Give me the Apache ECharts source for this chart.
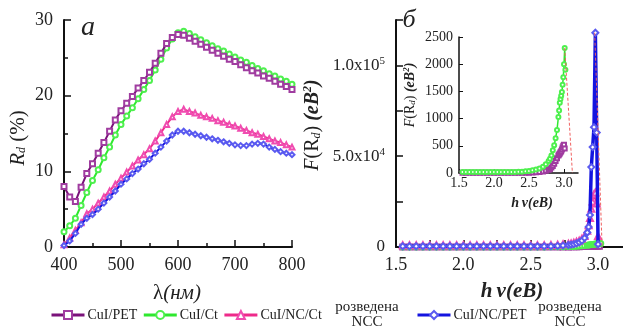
<!DOCTYPE html>
<html><head><meta charset="utf-8">
<script src="https://cdn.jsdelivr.net/npm/echarts/dist/echarts.min.js"></script>
<style>html,body{margin:0;padding:0;background:#fff}#c{width:623px;height:329px}</style>
</head><body><div id="c"></div>
<script>
// ---- panel (a): diffuse reflectance vs wavelength ----
const wavelength = [400,410,420,430,440,450,460,470,480,490,500,510,520,530,540,550,560,570,580,590,600,610,620,630,640,650,660,670,680,690,700,710,720,730,740,750,760,770,780,790,800];
const rdCuIPET   = [8.0,6.6,6.0,7.9,9.7,11.0,12.4,13.8,15.3,16.8,18.0,19.0,19.9,21.0,22.0,23.1,24.3,25.6,26.9,27.7,28.1,28.0,27.6,27.2,26.8,26.4,26.0,25.6,25.2,24.8,24.5,24.1,23.7,23.3,23.0,22.6,22.3,21.9,21.5,21.2,20.8];
const rdCuICt    = [2.0,2.8,3.8,5.5,7.2,8.8,10.2,11.8,13.2,14.8,16.2,17.3,18.4,19.6,20.8,22.0,23.4,24.8,26.3,27.5,28.3,28.5,28.2,27.8,27.4,27.0,26.6,26.2,25.9,25.5,25.1,24.7,24.4,24.0,23.6,23.3,22.9,22.6,22.2,21.9,21.5];
const rdCuINCCt  = [0.3,1.2,2.2,3.2,4.4,5.0,5.8,6.6,7.4,8.3,9.1,9.9,10.7,11.5,12.2,13.0,14.0,15.1,16.2,17.2,17.9,18.2,17.9,17.7,17.4,17.2,17.0,16.7,16.5,16.2,16.0,15.7,15.4,15.1,14.9,14.6,14.3,14.0,13.8,13.5,13.2];
const rdCuINCPET = [0.2,0.8,1.8,3.0,3.8,4.3,5.0,5.8,6.6,7.4,8.3,9.0,9.7,10.3,11.0,11.6,12.4,13.2,14.0,14.8,15.3,15.3,15.1,14.9,14.7,14.5,14.3,14.1,13.9,13.7,13.5,13.4,13.4,13.6,13.7,13.6,13.2,12.9,12.6,12.4,12.2];
// ---- panel (б): Kubelka-Munk function vs photon energy ----
const energy = [1.55,1.6,1.65,1.7,1.75,1.8,1.85,1.9,1.95,2.0,2.05,2.1,2.15,2.2,2.25,2.3,2.35,2.4,2.45,2.5,2.55,2.6,2.65,2.7,2.74,2.78,2.8,2.82,2.84,2.86,2.88,2.9,2.92,2.93,2.94,2.95,2.96,2.97,2.98,2.99,3.0,3.01,3.02];
const fCuIPET   = [5,5,5,5,5,5,5,5,5,5,5,5,5,5,5,5,5,5,5,5,8,12,18,28,40,60,75,100,130,170,220,270,320,340,360,380,400,430,470,500,520,450,null];
const fCuICt    = [20,20,20,20,20,20,20,20,20,20,20,20,20,20,20,20,22,25,30,38,50,65,85,115,160,220,260,320,420,510,640,790,1030,1150,1290,1360,1420,1490,1620,1760,2000,2300,1900];
const fCuINCCt  = [1000,1000,1000,1000,1000,1000,1000,1000,1000,1000,1000,1000,1000,1000,1000,1000,1000,1000,1000,1000,1000,1000,1100,1300,1500,1800,2000,2400,2900,3500,4500,6000,9000,12000,16000,21000,25000,29000,30000,24000,6000,null,null];
const fCuINCPET = [400,400,400,400,400,400,400,400,400,400,400,400,400,400,400,400,400,400,400,400,400,400,450,600,800,1100,1300,1600,2000,2600,3500,5000,8000,11000,17600,44000,55000,66000,118000,63000,1500,null,null];
const fitMain  = [[2.975,118000],[3.03,0]];
const fitInset = [[3.01,2300],[3.12,0]];
const seriesNames = ['CuI/PET','CuI/Ct','CuI/NC/Ct','CuI/NC/PET'];

const FONT = 'Liberation Serif';
const C = {
  pet:  {line:'#7a127a', mark:'#a03ca0', sym:'emptyRect'},
  ct:   {line:'#2ee82e', mark:'#4ef04e', sym:'emptyCircle'},
  ncct: {line:'#ee2a8a', mark:'#f04cb0', sym:'emptyTriangle'},
  ncpet:{line:'#1414e0', mark:'#5a5af0', sym:'emptyDiamond'}
};
function pairs(xs, ys){ return xs.map((x,i)=>[x, ys[i]]); }
function ser(name, st, data, xi, yi, size, lw, z){
  return {type:'line', name, xAxisIndex:xi, yAxisIndex:yi, data, symbol:st.sym, symbolSize:size,
    showSymbol:true, connectNulls:false, z:z||2, animation:false,
    lineStyle:{color:st.line, width:lw}, itemStyle:{color:st.mark, borderWidth:1}};
}
const axisLineBlack = {show:true, lineStyle:{color:'#111', width:2}};
const tickStyle = {show:true, inside:true, length:7, lineStyle:{color:'#111', width:1.5}};
const minorStyle = {show:true, splitNumber:2, length:4, lineStyle:{color:'#111', width:1.5}};
const lab = {color:'#222', fontFamily:FONT, fontSize:18};

const chart = echarts.init(document.getElementById('c'), null, {renderer:'canvas'});
chart.setOption({
  animation:false,
  backgroundColor:'#fff',
  grid:[
    {left:64, top:20, width:228, height:227, outerBoundsMode:'none'},
    {left:396, top:20, width:229, height:227, outerBoundsMode:'none'},
    {left:459, top:37, width:119, height:136, outerBoundsMode:'none'}
  ],
  xAxis:[
    {gridIndex:0, type:'value', min:400, max:800, interval:100, axisLine:axisLineBlack, axisTick:tickStyle,
      minorTick:minorStyle, splitLine:{show:false}, axisLabel:Object.assign({margin:9}, lab)},
    {gridIndex:1, type:'value', min:1.5, max:3.2, interval:0.25, axisLine:axisLineBlack, axisTick:tickStyle,
      splitLine:{show:false},
      axisLabel:Object.assign({margin:9, showMaxLabel:false, formatter:v=>(Math.abs(v*2-Math.round(v*2))<1e-6 && v<3.1)?v.toFixed(1):''}, lab)},
    {gridIndex:2, type:'value', min:1.5, max:3.2, interval:0.5, axisLine:{show:true, lineStyle:{color:'#111', width:1.5}},
      axisTick:{show:true, inside:true, length:4, lineStyle:{color:'#111'}}, splitLine:{show:false},
      axisLabel:{margin:3, showMaxLabel:false, color:'#222', fontFamily:FONT, fontSize:14, formatter:v=>v<3.1?v.toFixed(1):''}}
  ],
  yAxis:[
    {gridIndex:0, type:'value', min:0, max:30, interval:10, axisLine:axisLineBlack, axisTick:tickStyle,
      minorTick:minorStyle, splitLine:{show:false}, axisLabel:Object.assign({margin:11}, lab)},
    {gridIndex:1, type:'value', min:0, max:125000, interval:25000, axisLine:axisLineBlack, axisTick:tickStyle,
      splitLine:{show:false},
      axisLabel:{margin:11, color:'#222', fontFamily:FONT, fontSize:17,
        formatter:v=> v===0?'0': v===50000?'5.0x10{s|4}': v===100000?'1.0x10{s|5}':'',
        rich:{s:{fontSize:11, fontFamily:FONT, color:'#222', padding:[0,0,9,0]}}}},
    {gridIndex:2, type:'value', min:0, max:2500, interval:500, axisLine:{show:true, lineStyle:{color:'#111', width:1.5}},
      axisTick:{show:true, inside:true, length:4, lineStyle:{color:'#111'}}, splitLine:{show:false},
      axisLabel:{margin:6, color:'#222', fontFamily:FONT, fontSize:14, formatter:v=>String(v)}}
  ],
  legend:[
    {data:seriesNames.slice(0,3), left:50, top:308, itemWidth:33, itemHeight:10, itemGap:5, padding:0,
      textStyle:{fontFamily:FONT, fontSize:14, color:'#222', padding:[0,0,0,-2]}, lineStyle:{width:3}},
    {data:seriesNames.slice(3), left:416, top:308, itemWidth:33, itemHeight:10, itemGap:5, padding:0,
      textStyle:{fontFamily:FONT, fontSize:14, color:'#222', padding:[0,0,0,-2]}, lineStyle:{width:3}}
  ],
  graphic:[
    {type:'text', x:88, y:28, style:{text:'a', font:'italic 28px "Liberation Serif"', fill:'#222', align:'center', verticalAlign:'middle'}},
    {type:'text', x:409, y:20, style:{text:'б', font:'italic 26px "Liberation Serif"', fill:'#222', align:'center', verticalAlign:'middle'}},
    {type:'text', x:18, y:138, rotation:Math.PI/2, style:{text:'{i|R}{sub|d}{n| (%)}', align:'center', verticalAlign:'middle',
      rich:{i:{font:'italic 21px "Liberation Serif"', fill:'#222'}, sub:{font:'italic 12px "Liberation Serif"', fill:'#222', padding:[8,0,0,0]}, n:{font:'21px "Liberation Serif"', fill:'#222'}}}},
    {type:'text', x:313, y:125, rotation:Math.PI/2, style:{text:'{i|F}{n|(R}{sub|d}{n|) }{b|(eB}{sup|2}{b|)}', align:'center', verticalAlign:'middle',
      rich:{i:{font:'italic 20px "Liberation Serif"', fill:'#222'}, n:{font:'20px "Liberation Serif"', fill:'#222'},
        sub:{font:'italic 12px "Liberation Serif"', fill:'#222', padding:[8,0,0,0]},
        b:{font:'italic bold 20px "Liberation Serif"', fill:'#222'}, sup:{font:'italic bold 12px "Liberation Serif"', fill:'#222', padding:[0,0,10,0]}}}},
    {type:'text', x:410, y:95, rotation:Math.PI/2, style:{text:'{i|F}{n|(R}{sub|d}{n|) }{b|(eB}{sup|2}{b|)}', align:'center', verticalAlign:'middle',
      rich:{i:{font:'italic 14px "Liberation Serif"', fill:'#222'}, n:{font:'14px "Liberation Serif"', fill:'#222'},
        sub:{font:'italic 9px "Liberation Serif"', fill:'#222', padding:[6,0,0,0]},
        b:{font:'italic bold 14px "Liberation Serif"', fill:'#222'}, sup:{font:'italic bold 9px "Liberation Serif"', fill:'#222', padding:[0,0,7,0]}}}},
    {type:'text', x:177, y:293, style:{text:'{n|λ}{i|(нм)}', align:'center', verticalAlign:'middle',
      rich:{n:{font:'21px "Liberation Serif"', fill:'#222'}, i:{font:'italic 21px "Liberation Serif"', fill:'#222'}}}},
    {type:'text', x:512, y:292, style:{text:'h\u2009ν(eB)', font:'italic bold 21px "Liberation Serif"', fill:'#222', align:'center', verticalAlign:'middle'}},
    {type:'text', x:532, y:203, style:{text:'h\u2009ν(eB)', font:'italic bold 14px "Liberation Serif"', fill:'#222', align:'center', verticalAlign:'middle'}},
    {type:'text', x:367, y:315, style:{text:'розведена\nNCC', font:'15px "Liberation Serif"', lineHeight:15, fill:'#222', align:'center', verticalAlign:'middle'}},
    {type:'text', x:570, y:315, style:{text:'розведена\nNCC', font:'15px "Liberation Serif"', lineHeight:15, fill:'#222', align:'center', verticalAlign:'middle'}}
  ],
  series:[
    ser(seriesNames[0], C.pet,  pairs(wavelength, rdCuIPET),  0,0,5,2,4),
    ser(seriesNames[1], C.ct,   pairs(wavelength, rdCuICt),   0,0,5,2,3),
    ser(seriesNames[2], C.ncct, pairs(wavelength, rdCuINCCt), 0,0,5,2,3),
    ser(seriesNames[3], C.ncpet,pairs(wavelength, rdCuINCPET),0,0,5,2,4),
    ser(seriesNames[0], C.pet,  pairs(energy, fCuIPET),  1,1,5,2,3),
    ser(seriesNames[1], C.ct,   pairs(energy, fCuICt),   1,1,5,2,3),
    ser(seriesNames[2], C.ncct, pairs(energy, fCuINCCt), 1,1,6,2,3),
    ser(seriesNames[3], C.ncpet,pairs(energy, fCuINCPET),1,1,6,3.5,4),
    {type:'line', xAxisIndex:1, yAxisIndex:1, data:fitMain, symbol:'none', z:5, silent:true, lineStyle:{color:'#f06060', width:1, type:[3,2]}},
    ser(seriesNames[0], C.pet,  pairs(energy, fCuIPET),  2,2,4,1.5,3),
    ser(seriesNames[1], C.ct,   pairs(energy, fCuICt),   2,2,4,1.5,3),
    {type:'line', xAxisIndex:2, yAxisIndex:2, data:fitInset, symbol:'none', z:5, silent:true, lineStyle:{color:'#f06060', width:1, type:[3,2]}}
  ]
});
</script></body></html>
